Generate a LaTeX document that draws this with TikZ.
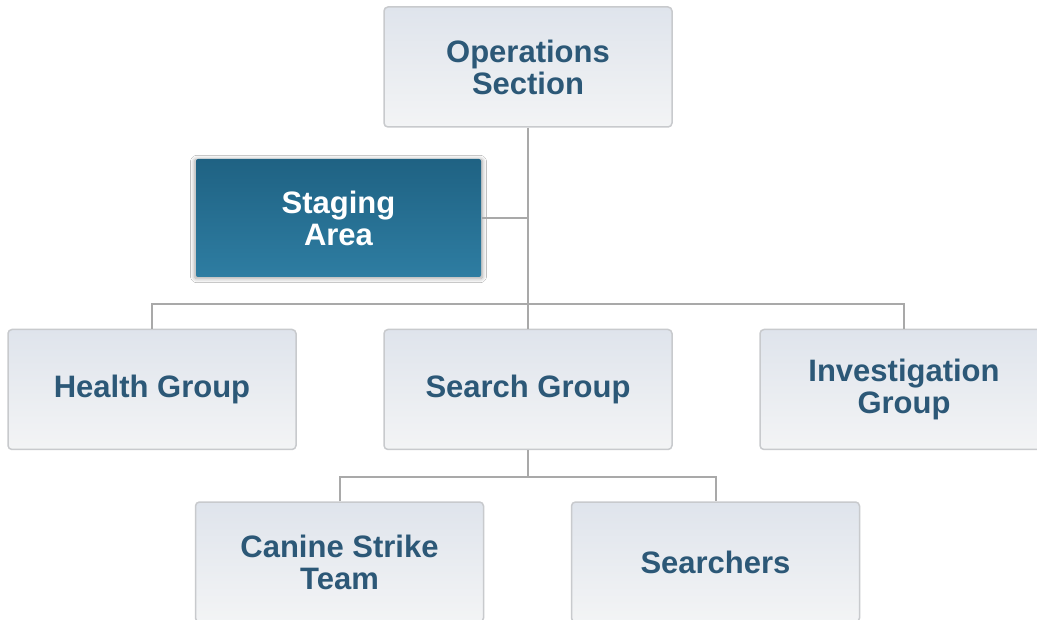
\documentclass[tikz,border=0pt]{standalone}
\usepackage{fontspec}
\setmainfont{Liberation Sans}
\usetikzlibrary{shadows.blur}
\definecolor{boxtop}{HTML}{DFE4EC}
\definecolor{boxbottom}{HTML}{F3F4F5}
\definecolor{boxline}{HTML}{C8CACD}
\definecolor{boxtext}{HTML}{2C5877}
\definecolor{stagetop}{HTML}{1F6283}
\definecolor{stagebottom}{HTML}{2E7DA2}
\definecolor{linkgray}{HTML}{A9A9A9}
\tikzset{
  unit/.style={draw=boxline, line width=1.5pt, rounded corners=4pt,
    top color=boxtop, bottom color=boxbottom, text=boxtext,
    minimum width=288pt, minimum height=120pt, inner sep=0pt,
    align=center, font=\bfseries\fontsize{31}{32}\selectfont},
  stage/.style={unit, draw=none, rounded corners=2pt,
    top color=stagetop, bottom color=stagebottom, text=white,
    minimum width=285pt, minimum height=118pt,
    blur shadow={shadow xshift=0pt, shadow yshift=-1pt, shadow scale=1.01,
      shadow blur radius=4pt, shadow blur steps=10, shadow opacity=35}},
  link/.style={draw=linkgray, line width=2pt}
}
\begin{document}
\begin{tikzpicture}[x=1pt,y=1pt]
    \useasboundingbox (0,0) rectangle (1037,-620);
    \clip (0,0) rectangle (1037,-620);
    \fill[white] (0,0) rectangle (1037,-620);
    % niveles del organigrama
    \node[unit] (ops) at (528,-67) {Operations\\Section};
    \node[stage] (staging) at (338.5,-218) {Staging\\Area};
    \node[unit] (health) at (152,-389.5) {Health Group};
    \node[unit] (search) at (528,-389.5) {Search Group};
    \node[unit] (invest) at (904,-389.5) {Investigation\\Group};
    \node[unit] (canine) at (339.5,-562) {Canine Strike\\Team};
    \node[unit] (searchers) at (715.5,-562) {Searchers};
    \coordinate (bar) at (0,-304);
    \coordinate (subbar) at (0,-477);
    % conectores
    \draw[link] (ops) -- (search);
    \draw[link] (staging.east) -- (staging.east -| ops.south);
    \draw[link] (health.north) -- (health.north |- bar) -- (invest.north |- bar) -- (invest.north);
    \draw[link] (search.south) -- (search.south |- subbar);
    \draw[link] (canine.north) -- (canine.north |- subbar) -- (searchers.north |- subbar) -- (searchers.north);
\end{tikzpicture}
\end{document}
